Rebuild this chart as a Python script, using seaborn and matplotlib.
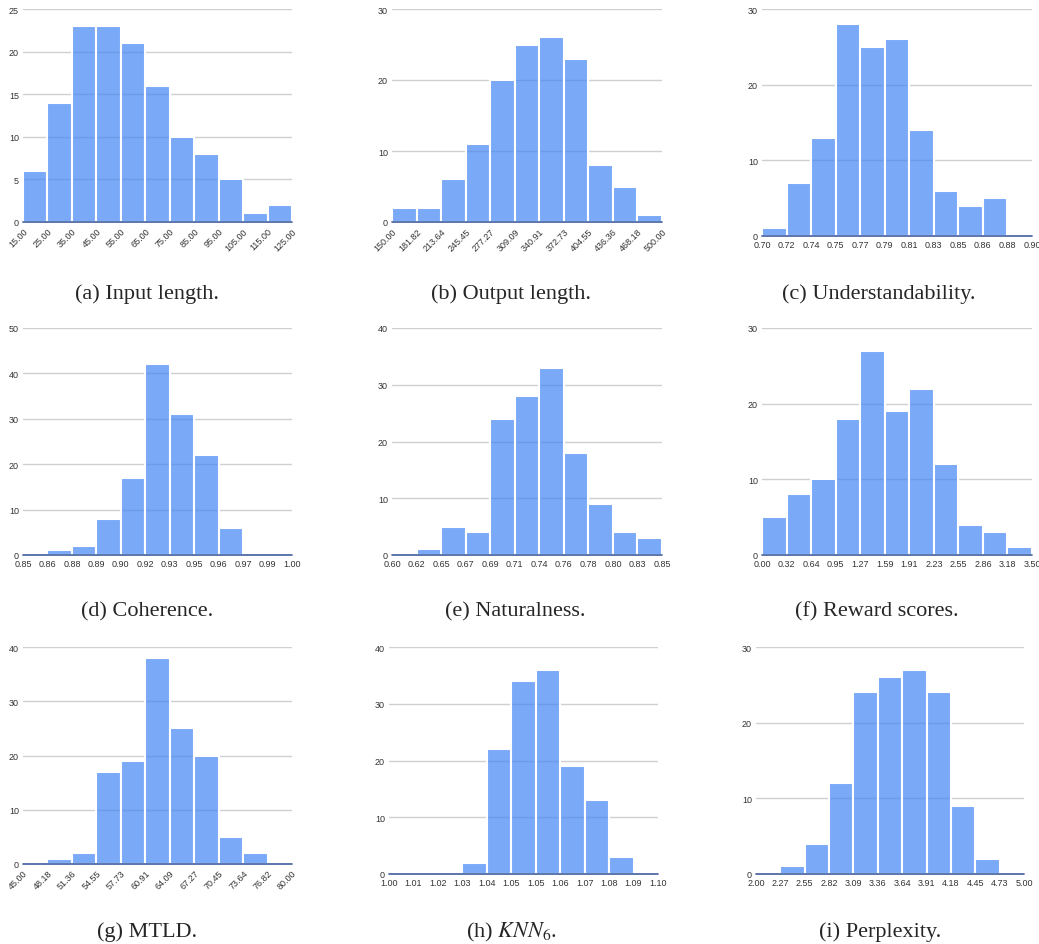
import numpy as np
import pandas as pd
import matplotlib
matplotlib.use("Agg")
import matplotlib.pyplot as plt
import seaborn as sns

sns.set_style("white")
plt.rcParams["font.family"] = ["Liberation Sans", "DejaVu Sans"]
plt.rcParams["mathtext.fontset"] = "stix"

# bin edge labels and counts
input_len_ticks = ["15.00", "25.00", "35.00", "45.00", "55.00", "65.00", "75.00",
                   "85.00", "95.00", "105.00", "115.00", "125.00"]
input_len_counts = [6, 14, 23, 23, 21, 16, 10, 8, 5, 1, 2]

output_len_ticks = ["150.00", "181.82", "213.64", "245.45", "277.27", "309.09", "340.91",
                    "372.73", "404.55", "436.36", "468.18", "500.00"]
output_len_counts = [2, 2, 6, 11, 20, 25, 26, 23, 8, 5, 1]

underst_ticks = ["0.70", "0.72", "0.74", "0.75", "0.77", "0.79", "0.81",
                 "0.83", "0.85", "0.86", "0.88", "0.90"]
underst_counts = [1, 7, 13, 28, 25, 26, 14, 6, 4, 5, 0]

coherence_ticks = ["0.85", "0.86", "0.88", "0.89", "0.90", "0.92", "0.93",
                   "0.95", "0.96", "0.97", "0.99", "1.00"]
coherence_counts = [0, 1, 2, 8, 17, 42, 31, 22, 6, 0, 0]

natural_ticks = ["0.60", "0.62", "0.65", "0.67", "0.69", "0.71", "0.74",
                 "0.76", "0.78", "0.80", "0.83", "0.85"]
natural_counts = [0, 1, 5, 4, 24, 28, 33, 18, 9, 4, 3]

reward_ticks = ["0.00", "0.32", "0.64", "0.95", "1.27", "1.59", "1.91",
                "2.23", "2.55", "2.86", "3.18", "3.50"]
reward_counts = [5, 8, 10, 18, 27, 19, 22, 12, 4, 3, 1]

mtld_ticks = ["45.00", "48.18", "51.36", "54.55", "57.73", "60.91", "64.09",
              "67.27", "70.45", "73.64", "76.82", "80.00"]
mtld_counts = [0, 1, 2, 17, 19, 38, 25, 20, 5, 2, 0]

knn_ticks = ["1.00", "1.01", "1.02", "1.03", "1.04", "1.05", "1.05",
             "1.06", "1.07", "1.08", "1.09", "1.10"]
knn_counts = [0, 0, 0, 2, 22, 34, 36, 19, 13, 3, 0]

ppl_ticks = ["2.00", "2.27", "2.55", "2.82", "3.09", "3.36", "3.64",
             "3.91", "4.18", "4.45", "4.73", "5.00"]
ppl_counts = [0, 1, 4, 12, 24, 26, 27, 24, 9, 2, 0]

captions = ["(a) Input length.", "(b) Output length.", "(c) Understandability.",
            "(d) Coherence.", "(e) Naturalness.", "(f) Reward scores.",
            "(g) MTLD.", "(h) $KNN_6$.", "(i) Perplexity."]
y_max = [25, 30, 30, 50, 40, 30, 40, 40, 30]
y_step = [5, 10, 10, 10, 10, 10, 10, 10, 10]

panels = [
    (input_len_ticks, input_len_counts, True),
    (output_len_ticks, output_len_counts, True),
    (underst_ticks, underst_counts, False),
    (coherence_ticks, coherence_counts, False),
    (natural_ticks, natural_counts, False),
    (reward_ticks, reward_counts, False),
    (mtld_ticks, mtld_counts, True),
    (knn_ticks, knn_counts, False),
    (ppl_ticks, ppl_counts, False),
]

W, H = 1039, 945
# axes boxes in pixels: left, top, right, bottom
boxes = [
    (23, 10, 292, 223), (392, 10, 662, 223), (762, 10, 1032, 237),
    (23, 329, 292, 556), (392, 329, 662, 556), (762, 329, 1032, 556),
    (23, 648, 292, 865), (389, 648, 658, 875), (756, 648, 1024, 875),
]
cap_pos = [(147, 294), (511, 294), (879, 294),
           (147, 612), (515, 612), (877, 612),
           (147, 932), (511, 932), (880, 932)]

# google blue, drawn semi-transparent so the grid shows through
bar_color = "#4285f4"

fig = plt.figure(figsize=(W / 100, H / 100), dpi=100)

for i, (ticks, counts, rotate) in enumerate(panels):
    l, t, r, b = boxes[i]
    ax = fig.add_axes([l / W, 1 - b / H, (r - l) / W, (b - t) / H])
    edges = np.arange(len(ticks))
    df = pd.DataFrame({"pos": edges[:-1] + 0.5, "count": counts})
    sns.histplot(data=df, x="pos", weights="count", bins=list(edges), ax=ax,
                 color=bar_color, alpha=0.7, edgecolor="white", linewidth=1.5)
    ax.set_xlim(0, len(ticks) - 1)
    ax.set_ylim(0, y_max[i])
    ax.set_yticks(np.arange(0, y_max[i] + 1, y_step[i]))
    ax.set_xticks(edges)
    if rotate:
        ax.set_xticklabels(ticks, rotation=45, ha="right", rotation_mode="anchor")
    else:
        ax.set_xticklabels(ticks)
    ax.tick_params(axis="both", length=0, labelsize=6.5, colors="#333333", pad=3)
    ax.set_xlabel("")
    ax.set_ylabel("")
    ax.yaxis.grid(True, color="#d0d0d0", linewidth=1)
    ax.set_axisbelow(True)
    for s in ["top", "right", "left", "bottom"]:
        ax.spines[s].set_visible(False)
    ax.axhline(0, color="#3f5f9e", linewidth=1.2, clip_on=False, zorder=5)
    cx, cy = cap_pos[i]
    fig.text(cx / W, 1 - cy / H, captions[i], ha="center", va="center",
             fontsize=16, family=["Liberation Serif", "DejaVu Serif"])

fig.savefig("out.png", dpi=100)
